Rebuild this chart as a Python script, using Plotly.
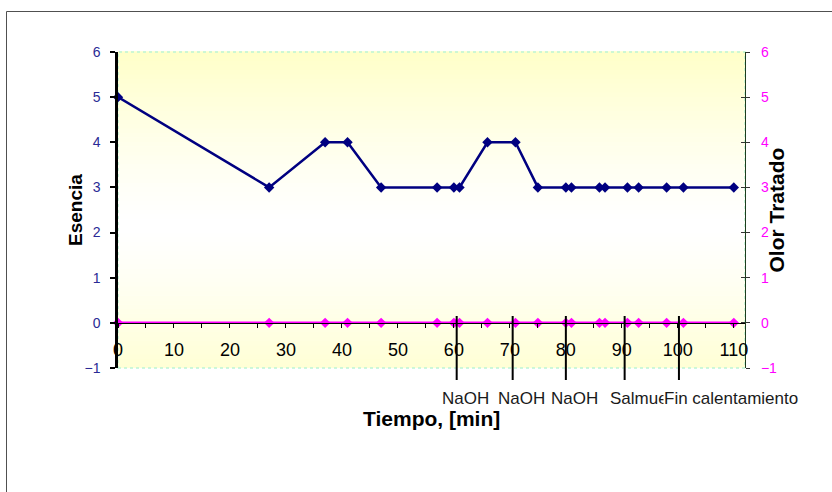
import plotly.graph_objects as go

# ---- data ----
tiempo = [0, 27, 37, 41, 47, 57, 60, 61, 66, 71, 75, 80, 81, 86, 87, 91, 93, 98, 101, 110]
esencia = [5, 3, 4, 4, 3, 3, 3, 3, 4, 4, 3, 3, 3, 3, 3, 3, 3, 3, 3, 3]
olor_tratado = [0] * len(tiempo)
event_times = [60.5, 70.5, 80, 90.5, 100.2]
event_labels = ["NaOH", "NaOH", "NaOH", "Salmuera", "Fin calentamiento"]
x_ticks = list(range(0, 111, 10))
y_ticks = list(range(-1, 7))

X_RANGE = [0, 112]
Y_RANGE = [-1, 6]
FONT = "Liberation Sans, Arial, sans-serif"
NAVY = "#000080"
PINK = "#FF00FF"

fig = go.Figure()
fig.add_trace(go.Scatter(
    x=tiempo, y=esencia, mode="lines+markers", name="Esencia",
    line=dict(color=NAVY, width=2.5),
    marker=dict(symbol="diamond", size=8, color=NAVY),
    xaxis="x", yaxis="y", cliponaxis=False))
fig.add_trace(go.Scatter(
    x=tiempo, y=olor_tratado, mode="lines+markers", name="Olor Tratado",
    line=dict(color=PINK, width=2.5),
    marker=dict(symbol="diamond", size=8, color=PINK),
    xaxis="x", yaxis="y2", cliponaxis=False))
# helper (invisible) trace so the crossing-tick axis is drawn
fig.add_trace(go.Scatter(x=[tiempo[0]], y=[olor_tratado[0]], mode="markers",
                         marker=dict(opacity=0), xaxis="x", yaxis="y3",
                         hoverinfo="skip", showlegend=False))

shapes = []
# gradient background of plot area (yellow -> white -> yellow)
N = 70
c_edge = (255, 255, 200)
center = 0.45
for i in range(N):
    t = (i + 0.5) / N
    d = abs(t - center) / max(center, 1 - center)
    d = min(1.0, d) ** 1.3
    r = round(255 + (c_edge[0] - 255) * d)
    g = round(255 + (c_edge[1] - 255) * d)
    b = round(255 + (c_edge[2] - 255) * d)
    shapes.append(dict(type="rect", xref="paper", yref="paper",
                       x0=0, x1=1, y0=i / N, y1=(i + 1) / N + 0.002,
                       fillcolor=f"rgb({r},{g},{b})", line=dict(width=0),
                       layer="below"))
# dotted plot area border
shapes.append(dict(type="rect", xref="paper", yref="paper", x0=0, x1=1, y0=0, y1=1,
                   line=dict(color="#BDF5D5", width=1.5, dash="dot"), layer="below"))
# outer chart frame
shapes.append(dict(type="rect", xref="paper", yref="paper",
                   x0=(6.5 - 118) / 627, x1=1.5, y0=-0.6, y1=(368 - 11.5) / 316,
                   line=dict(color="#505050", width=1), fillcolor="rgba(0,0,0,0)",
                   layer="below"))
# event marker lines
for t in event_times:
    shapes.append(dict(type="line", xref="x", yref="paper", x0=t, x1=t,
                       y0=(368 - 380) / 316, y1=(368 - 316) / 316,
                       line=dict(color="black", width=2), layer="above"))

annotations = []
for t, lab in zip(event_times, event_labels):
    annotations.append(dict(x=t, xref="x", y=(368 - 398) / 316, yref="paper",
                            text=lab, showarrow=False, xanchor="left", yanchor="middle",
                            xshift=-16, bgcolor="white", borderpad=0,
                            font=dict(family=FONT, size=17, color="#1a1a1a")))
annotations.append(dict(x=0.5, xref="paper", y=(368 - 432) / 316, yref="paper",
                        text="<b>Tiempo, [min]</b>", showarrow=False,
                        font=dict(family=FONT, size=21, color="black")))
annotations.append(dict(x=(62.5 - 118) / 627, xref="paper", y=0.5, yref="paper",
                        text="<b>Esencia</b>", showarrow=False, textangle=-90,
                        font=dict(family=FONT, size=19, color="black")))
annotations.append(dict(x=(789 - 118) / 627, xref="paper", y=0.5, yref="paper",
                        text="<b>Olor Tratado</b>", showarrow=False, textangle=-90,
                        font=dict(family=FONT, size=21, color="black")))

x_pos = (0 - Y_RANGE[0]) / (Y_RANGE[1] - Y_RANGE[0])

fig.update_layout(
    width=832, height=492, autosize=False,
    margin=dict(l=118, r=87, t=52, b=124, pad=0),
    paper_bgcolor="white", plot_bgcolor="white",
    showlegend=False, shapes=shapes, annotations=annotations,
    font=dict(family=FONT),
    xaxis=dict(range=X_RANGE, anchor="free", position=x_pos,
               tickvals=x_ticks, ticks="outside", ticklen=4, tickcolor="black",
               tickwidth=1, showline=True, linecolor="black", linewidth=1,
               showgrid=False, zeroline=False, ticklabelstandoff=7,
               tickfont=dict(family=FONT, size=18, color="black"),
               minor=dict(dtick=5, tick0=0, ticks="outside", ticklen=4,
                          tickcolor="black", showgrid=False)),
    yaxis=dict(range=Y_RANGE, tickvals=y_ticks, side="left",
               ticks="outside", ticklen=5, tickwidth=2, tickcolor="black",
               showline=True, linecolor="black", linewidth=2.5,
               showgrid=False, zeroline=False, ticklabelstandoff=7,
               tickfont=dict(family=FONT, size=14, color="#2a2a95")),
    yaxis2=dict(range=Y_RANGE, tickvals=y_ticks, side="right", overlaying="y",
                ticks="outside", ticklen=4, tickwidth=1, tickcolor="#333333",
                showline=True, linecolor="#1e3d1e", linewidth=1.2,
                showgrid=False, zeroline=False, ticklabelstandoff=8,
                tickfont=dict(family=FONT, size=14, color=PINK)),
    yaxis3=dict(range=Y_RANGE, tickvals=y_ticks, side="right", overlaying="y",
                ticks="inside", ticklen=4, tickwidth=1, tickcolor="#333333",
                showticklabels=False, showline=False, showgrid=False,
                zeroline=False),
)

fig.write_html("out.html")
